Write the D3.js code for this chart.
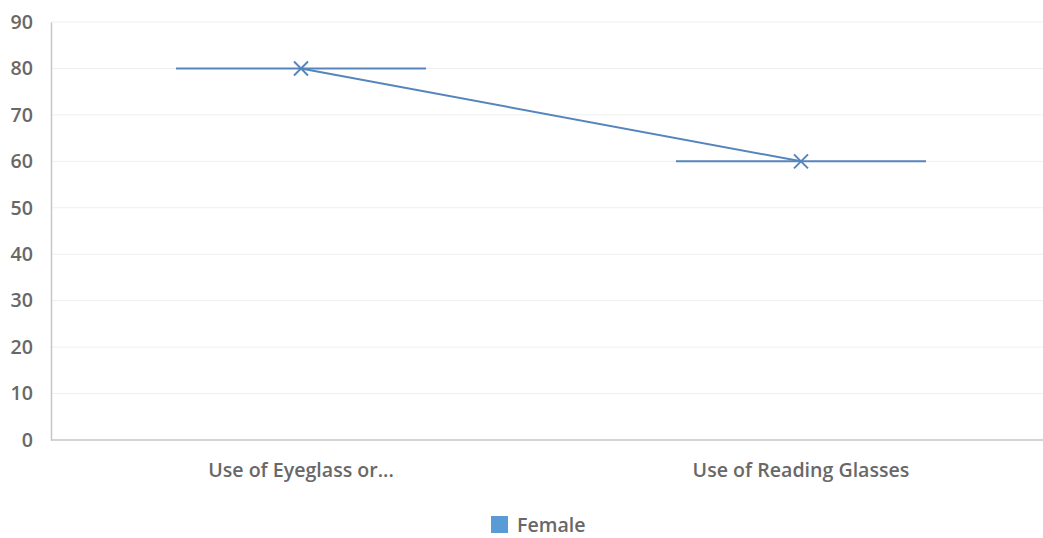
<!DOCTYPE html>
<html>
<head>
<meta charset="utf-8">
<script src="https://cdn.jsdelivr.net/npm/d3@7"></script>
<style>
  html, body { margin: 0; padding: 0; background: #fff; }
  svg { display: block; font-family: "Open Sans", sans-serif; }
</style>
</head>
<body>
<svg id="chart" width="1043" height="538"></svg>
<script>
// Share of respondents per category (%)
const categories = ["Use of Eyeglass or...", "Use of Reading Glasses"];
const female = [80, 60];
const yTicks = [0, 10, 20, 30, 40, 50, 60, 70, 80, 90];
const seriesName = "Female";

const svg = d3.select("#chart");
const lineColor = "#5685bd";
const legendColor = "#5b9bd5";
const textColor = "#686868";
const font = "Open Sans, sans-serif";
const fontSize = 19.6;
const fontWeight = 600;

const x = d3.scaleBand().domain(categories).range([51, 1051]);
const y = d3.scaleLinear().domain([0, 90]).range([440, 22]);

// horizontal gridlines
svg.append("g")
  .selectAll("line")
  .data(yTicks.filter(d => d > 0))
  .join("line")
  .attr("x1", 51).attr("x2", 1043)
  .attr("y1", d => y(d)).attr("y2", d => y(d))
  .attr("stroke", "#efefef").attr("stroke-width", 1);

// y axis
const yAxis = svg.append("g")
  .attr("transform", "translate(51,0)")
  .call(d3.axisLeft(y).tickValues(yTicks).tickSize(0).tickPadding(18));
yAxis.select(".domain").attr("stroke", "#c6c6c6").attr("stroke-width", 1.5);
yAxis.selectAll("text").attr("fill", textColor).attr("font-size", fontSize)
  .attr("font-weight", fontWeight).attr("font-family", font);

// x axis
const xAxis = svg.append("g")
  .attr("transform", "translate(0,440)")
  .call(d3.axisBottom(x).tickSize(0).tickPadding(23));
xAxis.select(".domain").attr("stroke", "#c6c6c6").attr("stroke-width", 1.5)
  .attr("d", "M51,0H1043");
xAxis.selectAll("text").attr("fill", textColor).attr("font-size", fontSize)
  .attr("font-weight", fontWeight).attr("font-family", font);

const cx = d => x(d) + x.bandwidth() / 2;
const pts = categories.map((c, i) => ({ c, v: female[i] }));

// horizontal level bars spanning half of each band
svg.append("g")
  .selectAll("line")
  .data(pts)
  .join("line")
  .attr("x1", d => cx(d.c) - x.bandwidth() / 4)
  .attr("x2", d => cx(d.c) + x.bandwidth() / 4)
  .attr("y1", d => y(d.v)).attr("y2", d => y(d.v))
  .attr("stroke", lineColor).attr("stroke-width", 2);

// connecting series line
svg.append("path")
  .datum(pts)
  .attr("fill", "none")
  .attr("stroke", lineColor)
  .attr("stroke-width", 2)
  .attr("d", d3.line().x(d => cx(d.c)).y(d => y(d.v)));

// x markers
const m = 7;
svg.append("g")
  .selectAll("path")
  .data(pts)
  .join("path")
  .attr("d", d => {
    const px = cx(d.c), py = y(d.v);
    return `M${px - m},${py - m}L${px + m},${py + m}M${px - m},${py + m}L${px + m},${py - m}`;
  })
  .attr("stroke", lineColor).attr("stroke-width", 2).attr("fill", "none");

// legend
const lg = svg.append("g").attr("transform", "translate(491,516)");
lg.append("rect").attr("width", 17).attr("height", 17).attr("fill", legendColor);
lg.append("text").attr("x", 26).attr("y", 15.5).text(seriesName)
  .attr("fill", textColor).attr("font-size", fontSize)
  .attr("font-weight", fontWeight).attr("font-family", font);
</script>
</body>
</html>
